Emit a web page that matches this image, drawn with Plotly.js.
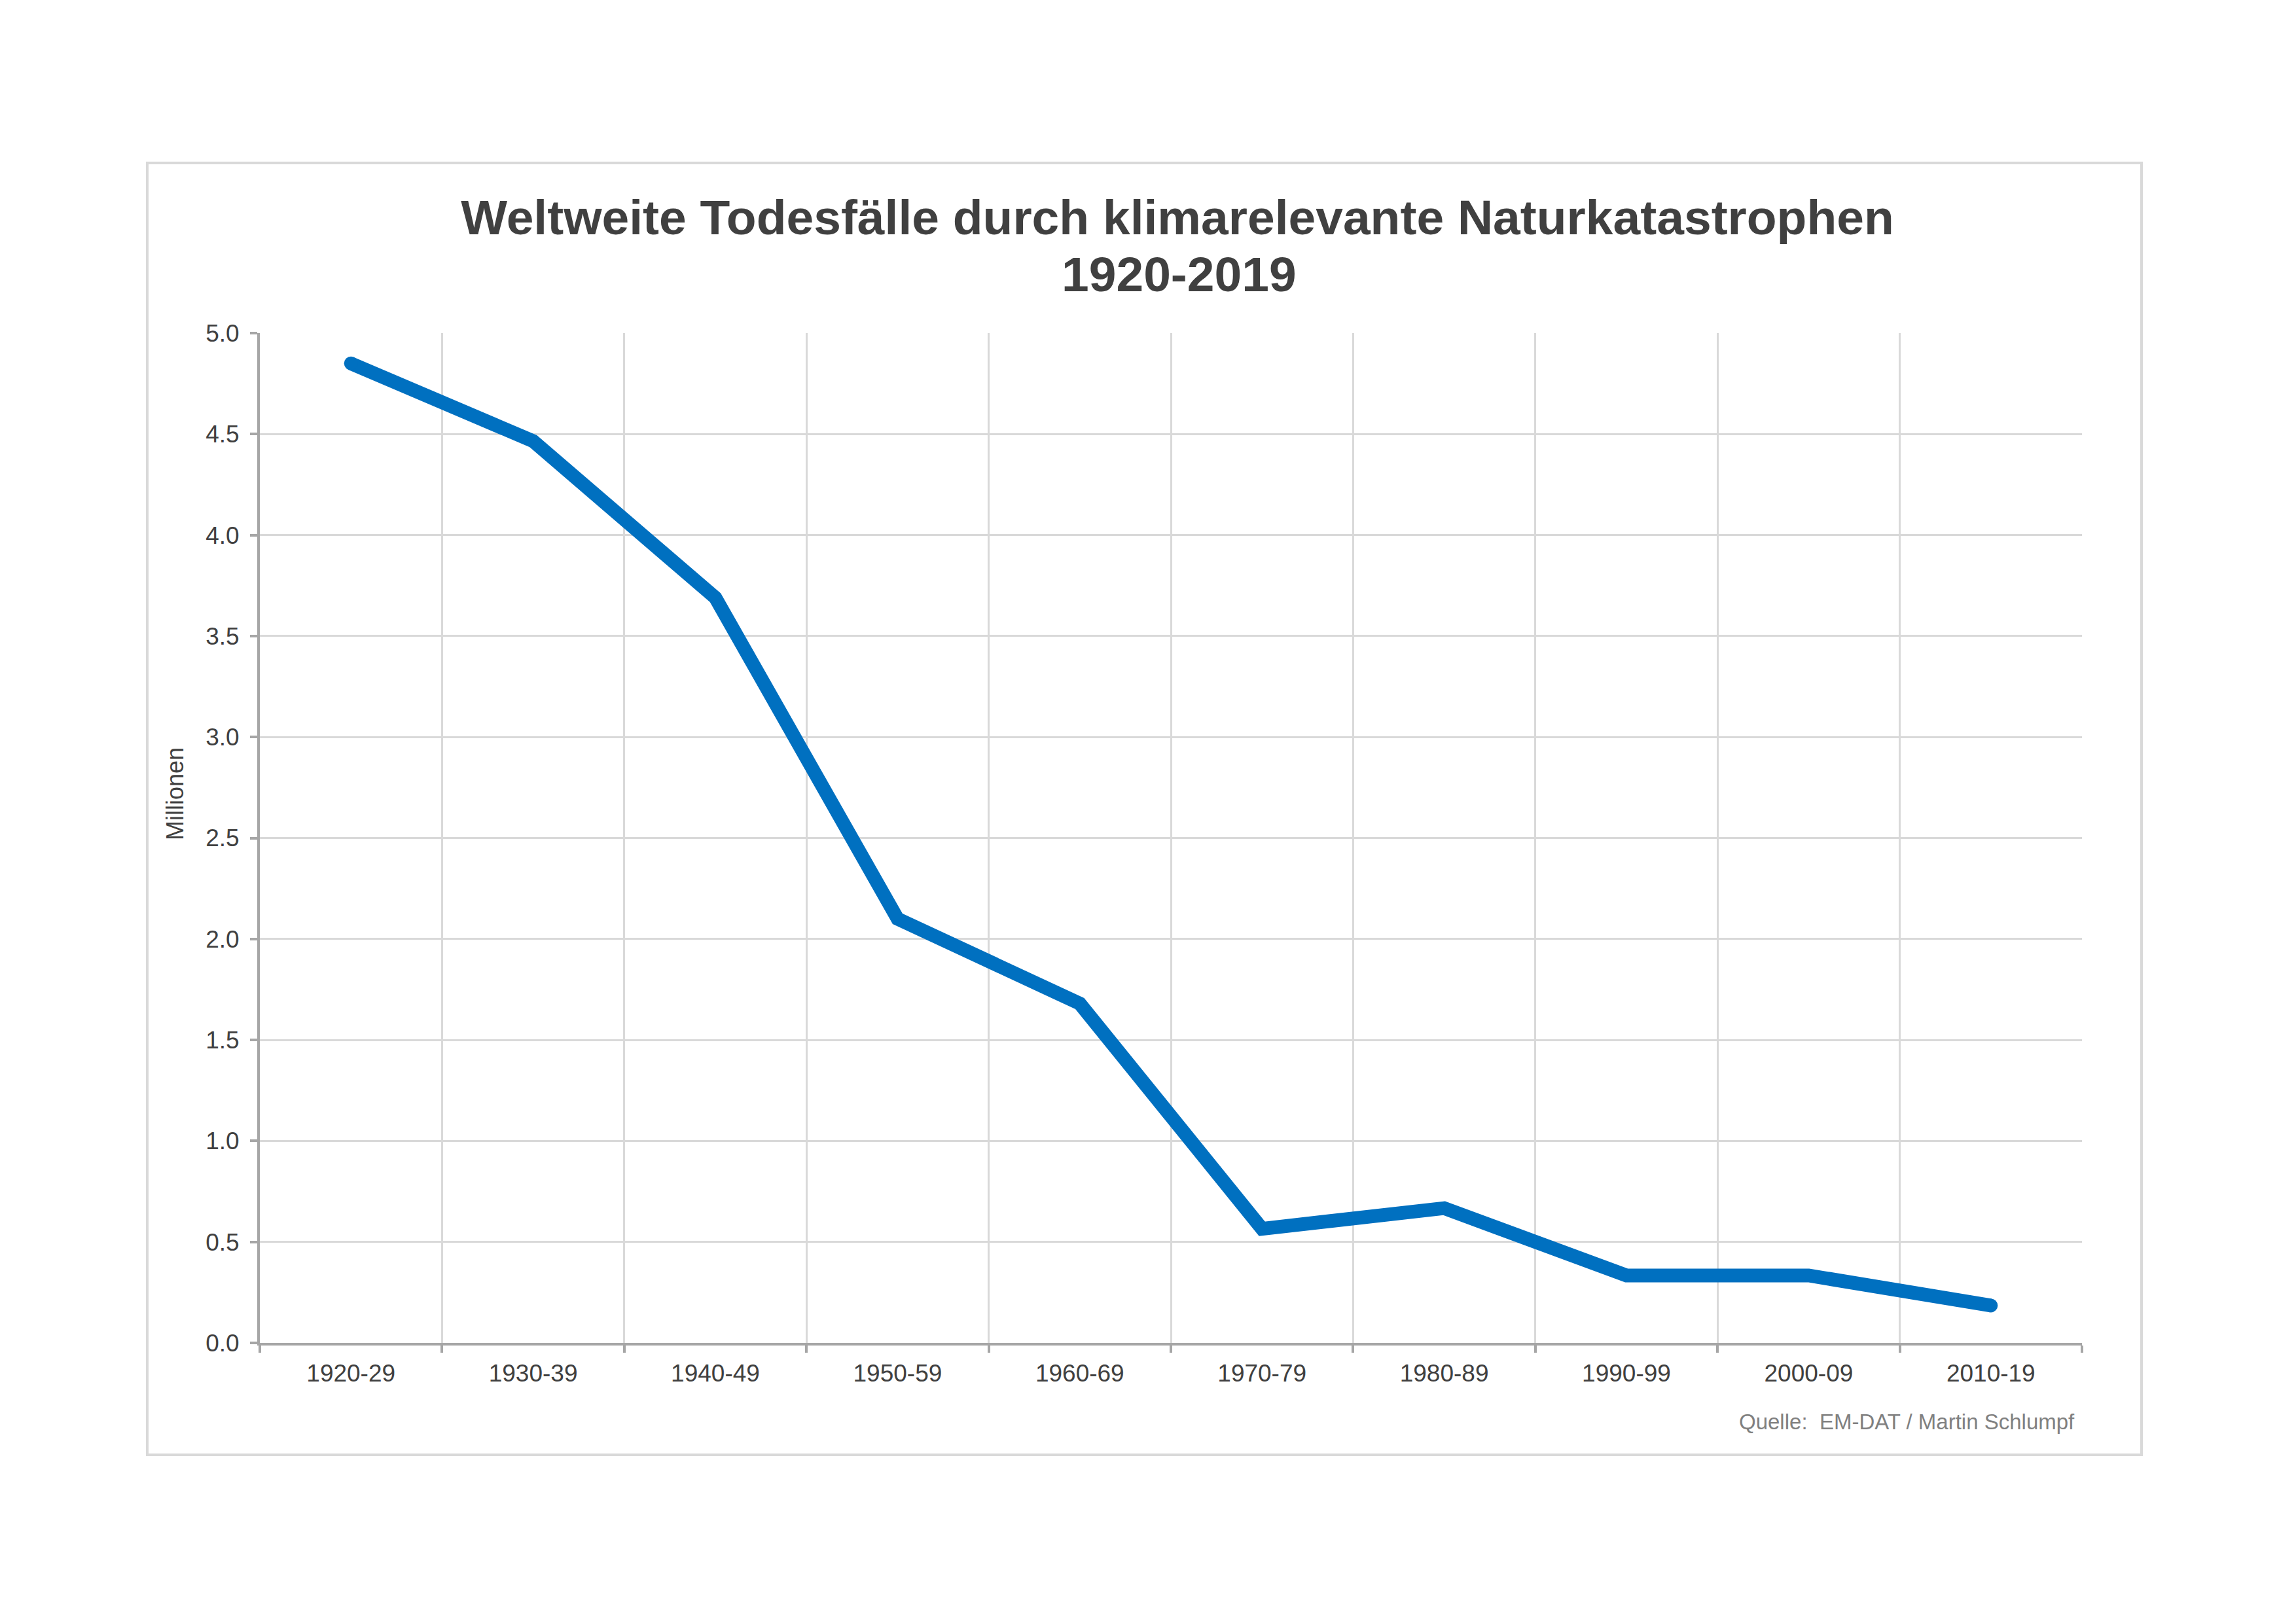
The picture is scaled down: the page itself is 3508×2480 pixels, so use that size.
<!DOCTYPE html>
<html>
<head>
<meta charset="utf-8">
<script src="https://cdn.plot.ly/plotly-3.0.1.min.js"></script>
<style>
  html, body { margin: 0; padding: 0; background: #ffffff; }
  #chart { width: 3508px; height: 2480px; }
</style>
</head>
<body>
<div id="chart"></div>
<script>
// ---- data ----
const decades = ['1920-29', '1930-39', '1940-49', '1950-59', '1960-69',
                 '1970-79', '1980-89', '1990-99', '2000-09', '2010-19'];
const deathsMillions = [4.85, 4.465, 3.69, 2.10, 1.68, 0.565, 0.667, 0.334, 0.334, 0.185];
const yTickValues = [0, 0.5, 1, 1.5, 2, 2.5, 3, 3.5, 4, 4.5, 5];
const titleLine1 = 'Weltweite Todesfälle durch klimarelevante Naturkatastrophen';
const titleLine2 = '1920-2019';
const yLabel = 'Millionen';
const sourceText = 'Quelle:  EM-DAT / Martin Schlumpf';

// ---- layout constants (pixels) ----
const W = 3508, H = 2480;
const plotL = 397, plotR = 3181, plotT = 509, plotB = 2052;
const pw = plotR - plotL, ph = plotB - plotT;
const px = (X) => (X - plotL) / pw;
const py = (Y) => (plotB - Y) / ph;

const FONT = 'Liberation Sans, Arial, Helvetica, sans-serif';
const TXT = '#404040';

const lastIdx = decades.length - 1;

const traces = [
  {
    type: 'scatter',
    mode: 'lines',
    x: decades,
    y: deathsMillions,
    line: { color: '#0070C0', width: 21 },
    hoverinfo: 'x+y',
    showlegend: false
  },
  {
    type: 'scatter',
    mode: 'markers',
    x: [decades[0], decades[lastIdx]],
    y: [deathsMillions[0], deathsMillions[lastIdx]],
    marker: { color: '#0070C0', size: 21, line: { width: 0 } },
    hoverinfo: 'skip',
    showlegend: false
  }
];

const layout = {
  width: W,
  height: H,
  paper_bgcolor: '#ffffff',
  plot_bgcolor: '#ffffff',
  margin: { l: plotL, r: W - plotR, t: plotT, b: H - plotB, pad: 0 },
  font: { family: FONT, color: TXT },
  title: {
    text: titleLine1,
    font: { family: FONT, size: 75, color: TXT, weight: 'bold' },
    xref: 'paper',
    x: px(1799),
    xanchor: 'center',
    yref: 'container',
    y: 1 - 331.5 / H,
    yanchor: 'middle'
  },
  xaxis: {
    type: 'category',
    range: [-0.5, lastIdx + 0.5],
    tickson: 'boundaries',
    ticks: 'outside',
    ticklen: 11,
    tickwidth: 4,
    tickcolor: '#a6a6a6',
    ticklabelstandoff: 11,
    showline: true,
    linecolor: '#a6a6a6',
    linewidth: 4,
    showgrid: true,
    gridcolor: '#d9d9d9',
    gridwidth: 3,
    zeroline: false,
    tickfont: { family: FONT, size: 37, color: TXT },
    fixedrange: true
  },
  yaxis: {
    range: [0, 5],
    tickvals: yTickValues,
    tickformat: '.1f',
    ticks: 'outside',
    ticklen: 11,
    tickwidth: 4,
    tickcolor: '#a6a6a6',
    ticklabelstandoff: 9,
    showline: true,
    linecolor: '#a6a6a6',
    linewidth: 4,
    showgrid: true,
    gridcolor: '#d9d9d9',
    gridwidth: 3,
    zeroline: false,
    tickfont: { family: FONT, size: 37, color: TXT },
    fixedrange: true
  },
  annotations: [
    {
      text: titleLine2,
      xref: 'paper', yref: 'paper',
      x: px(1801), y: py(419),
      xanchor: 'center', yanchor: 'middle',
      showarrow: false,
      font: { family: FONT, size: 75, color: TXT, weight: 'bold' }
    },
    {
      text: yLabel,
      xref: 'paper', yref: 'paper',
      x: px(267), y: py(1213),
      xanchor: 'center', yanchor: 'middle',
      textangle: -90,
      showarrow: false,
      font: { family: FONT, size: 36, color: TXT }
    },
    {
      text: sourceText,
      xref: 'paper', yref: 'paper',
      x: px(3172), y: py(2172),
      xanchor: 'right', yanchor: 'middle',
      showarrow: false,
      font: { family: FONT, size: 33, color: '#808080' }
    }
  ],
  shapes: [
    {
      type: 'rect',
      xref: 'paper', yref: 'paper',
      x0: px(225), x1: px(3272),
      y0: py(2223), y1: py(249),
      line: { color: '#d9d9d9', width: 4 },
      fillcolor: 'rgba(0,0,0,0)',
      layer: 'below'
    }
  ]
};

Plotly.newPlot('chart', traces, layout, { displayModeBar: false, staticPlot: true });
</script>
</body>
</html>
